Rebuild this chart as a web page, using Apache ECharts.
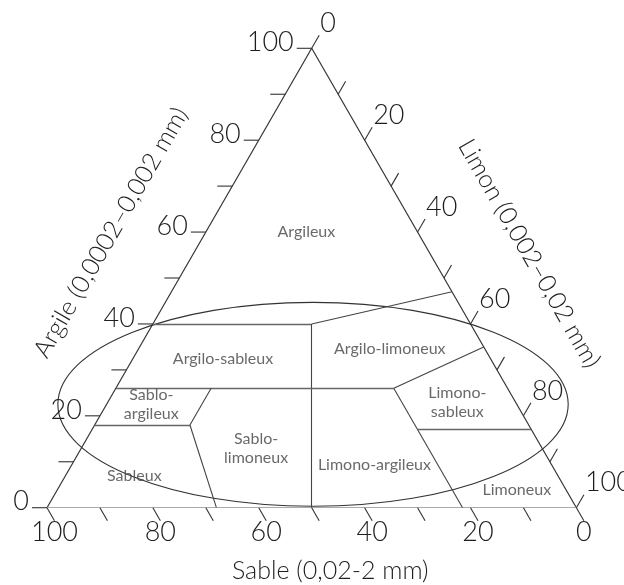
<!DOCTYPE html>
<html lang="fr">
<head>
<meta charset="utf-8">
<title>Triangle des textures</title>
<script src="https://cdn.jsdelivr.net/npm/echarts@6/dist/echarts.min.js"></script>
<style>
  html, body { margin: 0; padding: 0; background: #fff; }
  #chart { width: 624px; height: 585px; }
</style>
</head>
<body>
<div id="chart"></div>
<script>
// Every composition is written as [sable, limon, argile], in percent.

// Graduations along each side of the triangle
const tickValues = [0, 10, 20, 30, 40, 50, 60, 70, 80, 90, 100];
const labelledTicks = [0, 20, 40, 60, 80, 100];

// Side titles: sable (base), limon (right side), argile (left side)
const axisTitles = ['Sable (0,02-2 mm)', 'Limon (0,002–0,02 mm)', 'Argile (0,0002–0,002 mm)'];

// Corners of the triangle: pure sable, pure limon, pure argile
const corners = [[100, 0, 0], [0, 100, 0], [0, 0, 100]];

// Class boundaries, one segment per entry: [from, to]
const boundaries = [
  [[60, 0, 40], [30, 30, 40]],
  [[30, 30, 40], [0, 53, 47]],
  [[30, 30, 40], [50, 50, 0]],
  [[74, 0, 26], [21.5, 52.5, 26]],
  [[21.5, 52.5, 26], [0, 65, 35]],
  [[21.5, 52.5, 26], [21.5, 78.5, 0]],
  [[21.5, 61.5, 17], [0, 83, 17]],
  [[82, 0, 18], [64, 18, 18]],
  [[64, 18, 18], [56, 18, 26]],
  [[64, 18, 18], [68, 32, 0]]
];

// Texture classes and the composition where each name sits
const classNames = [
  'Argileux', 'Argilo-sableux', 'Argilo-limoneux',
  'Sablo-\nargileux', 'Sablo-\nlimoneux', 'Limono-argileux',
  'Limono-\nsableux', 'Sableux', 'Limoneux'
];
const classPoints = [
  [21, 19, 60], [50.5, 17, 32.5], [18, 47.5, 34.5],
  [69, 8.4, 22.6], [54, 33, 13], [33.5, 57.2, 9.3],
  [11, 66, 23], [80, 13, 7], [9.3, 86.8, 3.9]
];

// Zone of balanced textures: centre composition, then half-width (in % of the base)
// and half-height (in % of argile)
const zoneCentre = [38.5, 39, 22.5];
const zoneHalfAxes = [48.2, 22.2];

// Ternary composition -> plane coordinates (x along the base, y = argile)
function toXY(c) {
  return [c[1] + c[2] / 2, c[2]];
}

// Point of a side for a given graduation value
function sidePoint(axis, v) {
  if (axis === 0) return [v, 100 - v, 0];     // sable, on the base
  if (axis === 1) return [0, v, 100 - v];     // limon, on the right side
  return [100 - v, 0, v];                     // argile, on the left side
}

function unit(p, q) {
  const dx = q[0] - p[0], dy = q[1] - p[1];
  const n = Math.hypot(dx, dy);
  return [dx / n, dy / n];
}

const FONT = 'Lato, "Open Sans", sans-serif';

const tickData = [];
for (let a = 0; a < 3; a++) {
  tickValues.forEach(function (v) { tickData.push([a, v]); });
}

function renderTick(params, api) {
  const axis = api.value(0);
  const v = api.value(1);
  const A = api.coord(toXY(corners[0]));
  const B = api.coord(toXY(corners[1]));
  const T = api.coord(toXY(corners[2]));
  const p = api.coord(toXY(sidePoint(axis, v)));
  let d;
  if (axis === 0) d = unit(T, B);       // iso-sable direction
  else if (axis === 1) d = unit(A, T);  // iso-limon direction
  else d = [-1, 0];                     // iso-argile direction
  const len = 15;
  const e = [p[0] + d[0] * len, p[1] + d[1] * len];
  const children = [{
    type: 'line',
    shape: { x1: p[0], y1: p[1], x2: e[0], y2: e[1] },
    style: { stroke: '#333', lineWidth: 1.1 }
  }];
  if (labelledTicks.indexOf(v) >= 0) {
    let x, y, align;
    if (axis === 0) { x = e[0]; y = e[1] + 12; align = 'center'; }
    else if (axis === 1) { x = e[0] + 1; y = e[1] - 12; align = 'left'; }
    else { x = e[0] - 3; y = e[1] - 6; align = 'right'; }
    children.push({
      type: 'text',
      x: x, y: y,
      style: {
        text: String(v), align: align, verticalAlign: 'middle',
        fill: '#1e1e1e', font: '300 27px ' + FONT
      }
    });
  }
  return { type: 'group', children: children };
}

function renderTitle(params, api) {
  const i = api.value(0);
  const A = api.coord(toXY(corners[0]));
  const B = api.coord(toXY(corners[1]));
  const T = api.coord(toXY(corners[2]));
  let x, y, rotation;
  if (i === 0) {
    x = A[0] + (B[0] - A[0]) * 0.535;
    y = A[1] + 63;
    rotation = 0;
  } else {
    const P = i === 1 ? T : A;
    const Q = i === 1 ? B : T;
    const f = i === 1 ? 0.54 : 0.51;
    const off = i === 1 ? 86 : 82;
    const u = unit(P, Q);
    const n = [u[1], -u[0]];
    x = P[0] + (Q[0] - P[0]) * f + n[0] * off;
    y = P[1] + (Q[1] - P[1]) * f + n[1] * off;
    rotation = -Math.atan2(u[1], u[0]);
  }
  return {
    type: 'text',
    x: x, y: y, rotation: rotation,
    style: {
      text: axisTitles[i], align: 'center', verticalAlign: 'middle',
      fill: '#1e1e1e', font: '300 25px ' + FONT
    }
  };
}

const chart = echarts.init(document.getElementById('chart'), null, { renderer: 'canvas' });

const frameLines = [
  { coords: [toXY(corners[0]), toXY(corners[2])] },
  { coords: [toXY(corners[2]), toXY(corners[1])] },
  { coords: [toXY(corners[0]), toXY(corners[1])], lineStyle: { color: '#aaa', width: 1 } }
];

const boundaryLines = boundaries.map(function (seg) {
  const horizontal = seg[0][2] === seg[1][2];
  return {
    coords: [toXY(seg[0]), toXY(seg[1])],
    lineStyle: horizontal ? { color: '#666', width: 1.3 } : { color: '#444', width: 1.1 }
  };
});

chart.setOption({
  animation: false,
  backgroundColor: '#fff',
  grid: { left: 47, right: 47.6, top: 48.3, bottom: 77.3 },
  xAxis: { type: 'value', min: 0, max: 100, show: false },
  yAxis: { type: 'value', min: 0, max: 100, show: false },
  series: [
    {
      type: 'custom',
      coordinateSystem: 'cartesian2d',
      silent: true,
      data: [toXY(zoneCentre)],
      renderItem: function (params, api) {
        const c = api.coord([api.value(0), api.value(1)]);
        const s = api.size([zoneHalfAxes[0], zoneHalfAxes[1]]);
        return {
          type: 'ellipse',
          shape: { cx: c[0], cy: c[1], rx: s[0], ry: s[1] },
          style: { fill: 'none', stroke: '#333', lineWidth: 1.1 }
        };
      },
      z: 2
    },
    {
      type: 'lines',
      coordinateSystem: 'cartesian2d',
      silent: true,
      lineStyle: { color: '#333', width: 1.2, opacity: 1 },
      data: frameLines,
      z: 3
    },
    {
      type: 'lines',
      coordinateSystem: 'cartesian2d',
      silent: true,
      lineStyle: { opacity: 1 },
      data: boundaryLines,
      z: 3
    },
    {
      type: 'custom',
      coordinateSystem: 'cartesian2d',
      silent: true,
      data: tickData,
      renderItem: renderTick,
      z: 4
    },
    {
      type: 'custom',
      coordinateSystem: 'cartesian2d',
      silent: true,
      data: [[0, 0], [1, 0], [2, 0]],
      renderItem: renderTitle,
      z: 4
    },
    {
      type: 'scatter',
      silent: true,
      symbolSize: 0,
      data: classNames.map(function (name, i) {
        return { name: name, value: toXY(classPoints[i]) };
      }),
      label: {
        show: true,
        position: 'inside',
        formatter: function (p) { return p.name; },
        fontFamily: FONT,
        fontSize: 16,
        lineHeight: 19,
        color: '#444'
      },
      z: 5
    }
  ]
});
</script>
</body>
</html>
